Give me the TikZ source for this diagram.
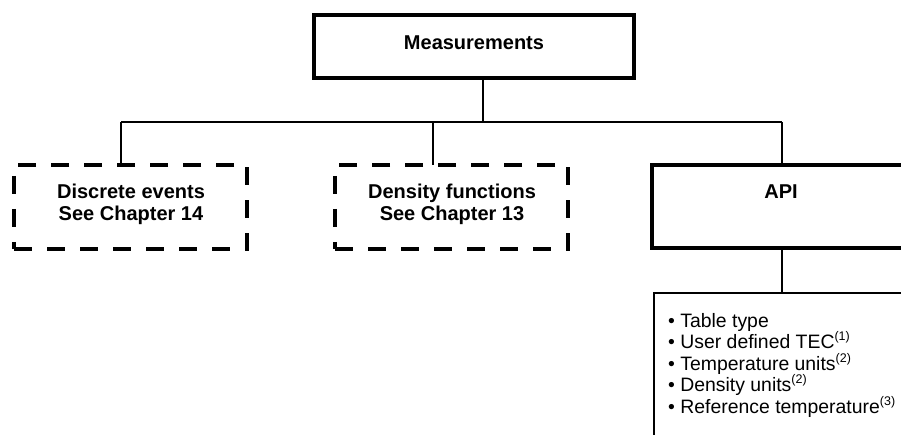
\documentclass[tikz,border=0pt]{standalone}
\usepackage{fontspec}
\setmainfont{Liberation Sans}
\begin{document}
\begin{tikzpicture}[x=1pt,y=-1pt,
  thickbox/.style={draw,line width=3.2pt,inner sep=0pt,outer sep=0pt},
  dashbox/.style={draw,line width=3.2pt,dash pattern=on 18pt off 15pt,inner sep=0pt,outer sep=0pt},
  thinbox/.style={draw,line width=1.3pt,inner sep=0pt,outer sep=0pt},
  conn/.style={line width=1.3pt},
  bold/.style={font=\fontsize{20}{22}\selectfont\bfseries,inner sep=0pt,anchor=base},
  item/.style={font=\fontsize{19.4}{21.5}\selectfont,inner sep=0pt,anchor=base west}]
\useasboundingbox (0,0) rectangle (901,435);
\clip (0,0) rectangle (901,435);
\newcommand\supnum[1]{\raisebox{0.4em}{\fontsize{12.5}{13}\selectfont(#1)}}
% boxes
\node[thickbox,minimum width=320pt,minimum height=63pt] (meas) at (474,46.5) {};
\node[dashbox,minimum width=233pt,minimum height=84pt] (disc) at (130.5,207) {};
\node[dashbox,minimum width=233pt,minimum height=84pt] (dens) at (451.5,207) {};
\node[thickbox,minimum width=260pt,minimum height=83pt] (api) at (782,206.5) {};
\node[thinbox,minimum width=256pt,minimum height=170pt] (list) at (782,378) {};
% labels
\node[bold] (tmeas) at (474,50) {Measurements};
\node[bold] (td1) at (131,199) {Discrete events};
\node[bold] (td2) at (131,221) {See Chapter 14};
\node[bold] (tn1) at (452,199) {Density functions};
\node[bold] (tn2) at (452,221) {See Chapter 13};
\node[bold] (tapi) at (781,199) {API};
\node[item] (l1) at (668,327) {\textbullet\ Table type};
\node[item] (l2) at (668,348.5) {\textbullet\ User defined TEC\supnum{1}};
\node[item] (l3) at (668,370) {\textbullet\ Temperature units\supnum{2}};
\node[item] (l4) at (668,391.5) {\textbullet\ Density units\supnum{2}};
\node[item] (l5) at (668,413) {\textbullet\ Reference temperature\supnum{3}};
% connectors
\coordinate (bm) at (483,122);
\coordinate (b1) at (121,122);
\coordinate (b2) at (433,122);
\coordinate (b3) at (782,122);
\draw[conn] (meas.south -| bm) -- (bm);
\draw[conn] (b1) -- (b3);
\draw[conn] (b1) -- (b1 |- disc.north);
\draw[conn] (b2) -- (b2 |- dens.north);
\draw[conn] (b3) -- (api.north);
\draw[conn] (api.south) -- (list.north);
\end{tikzpicture}
\end{document}
